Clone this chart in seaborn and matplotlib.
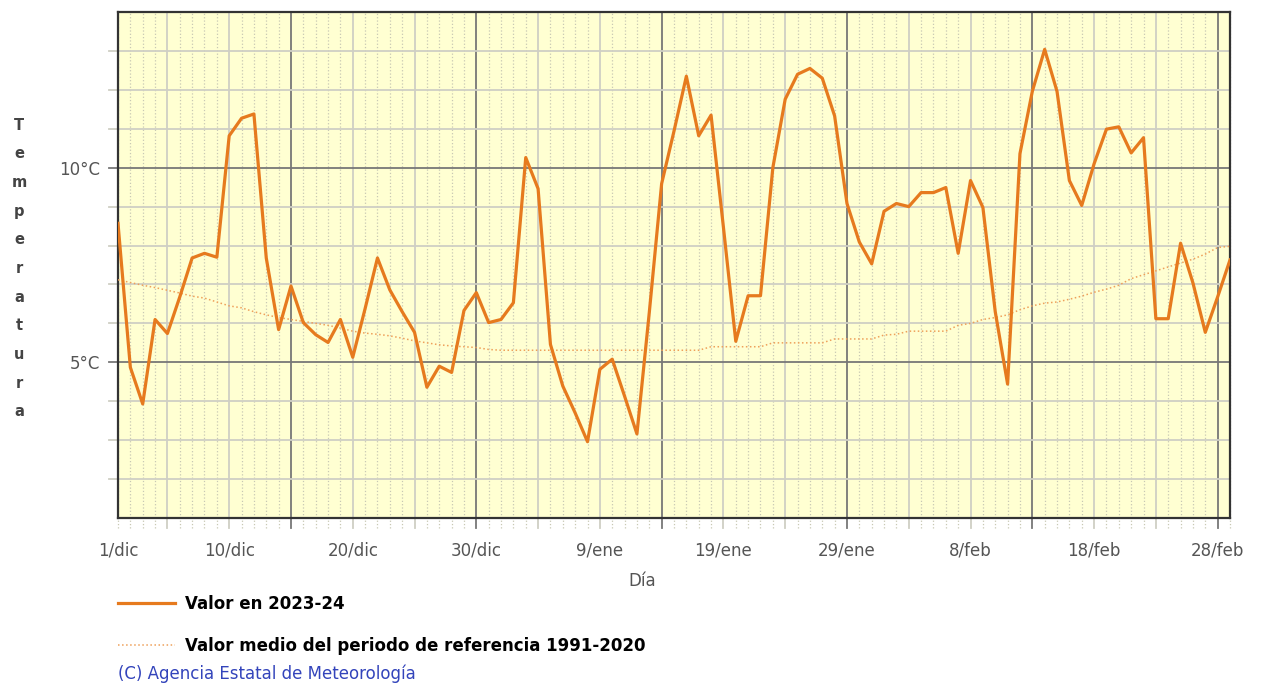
import seaborn as sns
import matplotlib.pyplot as plt
import numpy as np

# daily mean temperature, 1 dic 2023 -> 29 feb 2024
valor = [8.57, 4.87, 3.93, 6.10, 5.74, 6.68, 7.68, 7.80, 7.70, 10.82,
         11.27, 11.38, 7.68, 5.84, 6.96, 6.02, 5.71, 5.51, 6.10, 5.13,
         6.38, 7.68, 6.86, 6.30, 5.77, 4.36, 4.90, 4.74, 6.33, 6.79,
         6.02, 6.10, 6.53, 10.26, 9.46, 5.46, 4.39, 3.70, 2.96, 4.82,
         5.08, 4.13, 3.16, 6.28, 9.59, 10.94, 12.35, 10.82, 11.35, 8.47,
         5.54, 6.71, 6.71, 10.00, 11.76, 12.40, 12.55, 12.30, 11.33, 9.08,
         8.09, 7.53, 8.88, 9.08, 9.00, 9.36, 9.36, 9.49, 7.80, 9.67,
         8.98, 6.30, 4.44, 10.36, 11.96, 13.04, 11.96, 9.67, 9.03, 10.10,
         10.99, 11.05, 10.38, 10.77, 6.12, 6.12, 8.06, 7.04, 5.77, 6.68,
         7.63]

# reference 1991-2020
normal = [7.12, 7.05, 6.98, 6.92, 6.85, 6.78, 6.70, 6.65, 6.55, 6.45,
          6.40, 6.30, 6.22, 6.15, 6.10, 6.05, 6.00, 5.95, 5.88, 5.80,
          5.75, 5.72, 5.68, 5.62, 5.55, 5.50, 5.45, 5.42, 5.40, 5.38,
          5.33, 5.31, 5.31, 5.31, 5.31, 5.31, 5.31, 5.31, 5.31, 5.31,
          5.31, 5.31, 5.31, 5.31, 5.31, 5.31, 5.31, 5.31, 5.40, 5.40,
          5.40, 5.40, 5.40, 5.50, 5.50, 5.50, 5.50, 5.50, 5.60, 5.60,
          5.60, 5.60, 5.70, 5.72, 5.80, 5.80, 5.80, 5.80, 5.95, 6.00,
          6.10, 6.15, 6.22, 6.35, 6.45, 6.52, 6.55, 6.62, 6.70, 6.80,
          6.88, 6.98, 7.15, 7.25, 7.35, 7.45, 7.55, 7.65, 7.78, 7.95,
          7.98]

dias = np.arange(len(valor))
tick_pos = [0, 9, 19, 29, 39, 49, 59, 69, 79, 89]
tick_labels = ["1/dic", "10/dic", "20/dic", "30/dic", "9/ene", "19/ene",
               "29/ene", "8/feb", "18/feb", "28/feb"]
y_ticks = [5, 10]
y_labels = ["5°C", "10°C"]

plt.rcParams['font.family'] = ['DejaVu Sans']
fig = plt.figure(figsize=(12.62, 6.83), dpi=100)
ax = fig.add_axes([118/1262, 1 - 518/683, (1230-118)/1262, (518-12)/683])
ax.set_facecolor('#ffffd2')

# grid
for d in dias:
    if d % 15 == 14:
        c, ls, lw = '#777777', '-', 1.3
    elif d % 5 == 4:
        c, ls, lw = '#cfcfc4', '-', 1.3
    else:
        c, ls, lw = '#c8c8b4', ':', 0.9
    ax.plot([d, d], [-0.02, 1], transform=ax.get_xaxis_transform(),
            color=c, ls=ls, lw=lw, clip_on=False, zorder=1)
for t in range(2, 14):
    c = '#777777' if t % 5 == 0 else '#cfcfc4'
    ax.plot([-0.008, 1], [t, t], transform=ax.get_yaxis_transform(),
            color=c, lw=1.3, clip_on=False, zorder=1)

sns.lineplot(x=dias, y=normal, ax=ax, color='#eea05a', lw=1.1, ls=':',
             label='Valor medio del periodo de referencia 1991-2020', zorder=3)
sns.lineplot(x=dias, y=valor, ax=ax, color='#e67a1e', lw=2.3,
             label='Valor en 2023-24', zorder=4)

ax.set_xlim(0, 90)
ax.set_ylim(1, 14)
ax.set_xticks(tick_pos, tick_labels)
ax.set_yticks(y_ticks, y_labels)
ax.tick_params(length=0, colors='#555555', labelsize=12)
ax.tick_params(axis='x', pad=17)
ax.tick_params(axis='y', pad=13)
for s in ax.spines.values():
    s.set_color('#333333')
    s.set_linewidth(1.6)
ax.set_xlabel('Día', color='#555555', fontsize=12)
ax.xaxis.set_label_coords((642 - 118) / 1112, -0.107)
ax.set_ylabel('')

for i, ch in enumerate("Temperatura"):
    fig.text(19/1262, 1 - (125 + i*28.7)/683, ch, ha='center', va='center',
             fontsize=10.5, fontweight='bold', color='#444444')

h, l = ax.get_legend_handles_labels()
ax.legend(h[::-1], l[::-1], loc='upper left', bbox_to_anchor=(118/1262, 1 - 595/683),
          bbox_transform=fig.transFigure, frameon=False, borderpad=0, borderaxespad=0,
          handlelength=3.4, handletextpad=0.6, labelspacing=1.45,
          prop={'weight': 'bold', 'size': 12})

fig.text(118/1262, 1 - 674/683, "(C) Agencia Estatal de Meteorología",
         color='#3344bb', fontsize=12, va='center')

fig.savefig('out.png', dpi=100)
